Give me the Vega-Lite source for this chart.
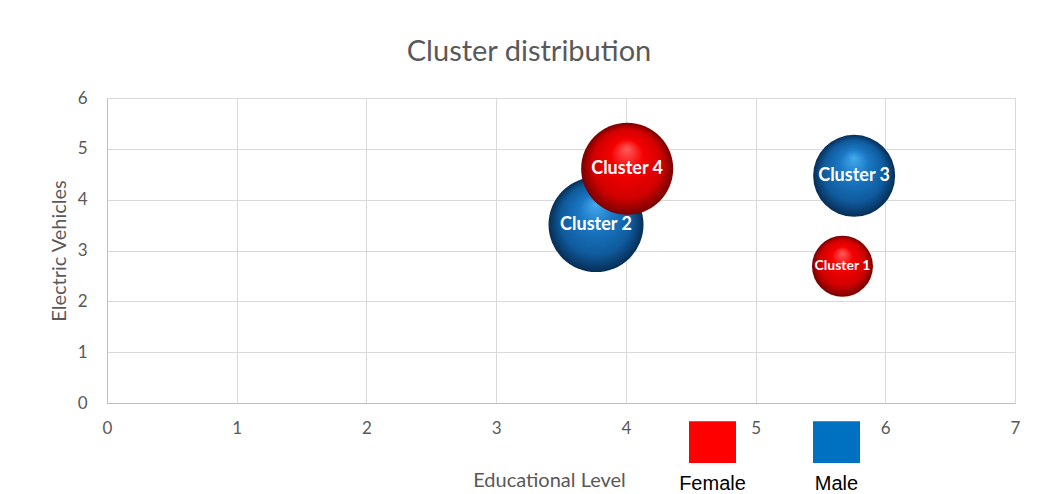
{
  "$schema": "https://vega.github.io/schema/vega-lite/v6.json",
  "width": 908,
  "height": 305,
  "autosize": {"type": "none"},
  "padding": {"left": 107, "top": 98, "right": 34, "bottom": 91},
  "background": "white",
  "title": {
    "text": "Cluster distribution",
    "font": "Lato",
    "fontSize": 29,
    "fontWeight": "normal",
    "color": "#595959",
    "anchor": "middle",
    "offset": 22,
    "dx": -32
  },
  "config": {
    "view": {"stroke": null},
    "axis": {
      "labelFont": "Lato",
      "labelFontSize": 17,
      "labelColor": "#595959",
      "titleFont": "Lato",
      "titleFontSize": 20,
      "titleFontWeight": "normal",
      "titleColor": "#595959",
      "gridColor": "#D9D9D9",
      "gridWidth": 1,
      "domainColor": "#BFBFBF",
      "ticks": false
    }
  },
  "data": {
    "values": [
      {"cluster": "Cluster 1", "Sex": "Female", "edu": 5.67, "ev": 2.69, "size": 41.2},
      {"cluster": "Cluster 2", "Sex": "Male", "edu": 3.77, "ev": 3.51, "size": 100},
      {"cluster": "Cluster 3", "Sex": "Male", "edu": 5.76, "ev": 4.47, "size": 74.5},
      {"cluster": "Cluster 4", "Sex": "Female", "edu": 4.01, "ev": 4.61, "size": 93.8}
    ]
  },
  "encoding": {
    "x": {
      "field": "edu",
      "type": "quantitative",
      "title": "Educational Level",
      "scale": {"domain": [0, 7], "nice": false},
      "axis": {"tickCount": 7, "labelPadding": 17, "titlePadding": 34, "labelFlush": false, "titleX": 442, "titleAlign": "center"}
    },
    "y": {
      "field": "ev",
      "type": "quantitative",
      "title": "Electric Vehicles",
      "scale": {"domain": [0, 6], "nice": false},
      "axis": {"tickCount": 6, "labelPadding": 20, "titlePadding": 8}
    }
  },
  "layer": [
    {
      "mark": {"type": "square", "filled": true, "size": 0},
      "encoding": {
        "color": {
          "field": "Sex",
          "type": "nominal",
          "scale": {"domain": ["Female", "Male"], "range": ["#FF0000", "#0070C0"]},
          "legend": {
            "title": null,
            "orient": "none",
            "direction": "horizontal",
            "legendX": 582,
            "legendY": 352,
            "symbolType": "M-1,-2.23H1V-0.46H-1Z",
            "symbolSize": 2209,
            "symbolStrokeWidth": 0,
            "symbolOpacity": 1,
            "labelAlign": "center",
            "labelBaseline": "top",
            "labelOffset": -23.5,
            "labelFont": "Liberation Sans",
            "labelFontSize": 20,
            "labelColor": "#000000",
            "columnPadding": 67
          }
        }
      }
    },
    {
      "mark": {"type": "circle", "opacity": 1, "strokeWidth": 0},
      "encoding": {
        "size": {
          "field": "size",
          "type": "quantitative",
          "scale": {"domain": [0, 100], "range": [0, 9025], "zero": true},
          "legend": null
        },
        "fill": {
          "condition": {
            "test": "datum.Sex === 'Female'",
            "value": {
              "gradient": "radial",
              "x1": 0.5, "y1": 0.28, "r1": 0,
              "x2": 0.5, "y2": 0.5, "r2": 0.5,
              "stops": [
                {"offset": 0, "color": "#FF5C5C"},
                {"offset": 0.35, "color": "#F50000"},
                {"offset": 0.75, "color": "#D20000"},
                {"offset": 1, "color": "#780000"}
              ]
            }
          },
          "value": {
            "gradient": "radial",
            "x1": 0.5, "y1": 0.28, "r1": 0,
            "x2": 0.5, "y2": 0.5, "r2": 0.5,
            "stops": [
              {"offset": 0, "color": "#45AAEE"},
              {"offset": 0.35, "color": "#1A78C4"},
              {"offset": 0.75, "color": "#0F5A9C"},
              {"offset": 1, "color": "#062E55"}
            ]
          }
        }
      }
    },
    {
      "mark": {"type": "text", "font": "Lato", "fontWeight": "bold", "color": "white"},
      "encoding": {
        "text": {"field": "cluster"},
        "size": {
          "field": "size",
          "type": "quantitative",
          "scale": {"type": "threshold", "domain": [50], "range": [14, 18]},
          "legend": null
        }
      }
    }
  ]
}
